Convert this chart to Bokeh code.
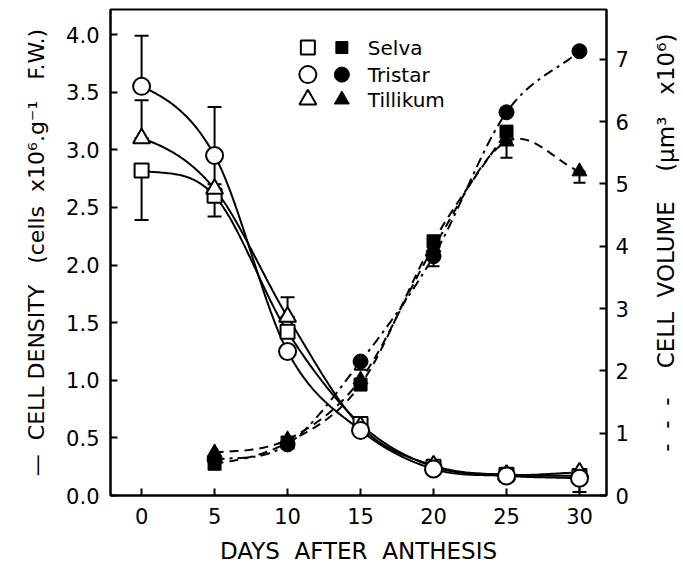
import math
import numpy as np
from bokeh.plotting import figure
from bokeh.models import (Range1d, LinearAxis, Whisker, ColumnDataSource, TeeHead,
                          FixedTicker, PrintfTickFormatter)
from bokeh.embed import file_html
from bokeh.resources import INLINE
from bokeh.core.properties import value

# ---------------- data ----------------
days = [0, 5, 10, 15, 20, 25, 30]
selva_density = [2.82, 2.60, 1.42, 0.62, 0.25, 0.18, 0.17]
tristar_density = [3.55, 2.95, 1.25, 0.565, 0.23, 0.17, 0.15]
tillikum_density = [3.10, 2.66, 1.55, 0.60, 0.26, 0.18, 0.20]

selva_vol_days = [5, 10, 15, 20, 25]
selva_volume = [0.51, 0.85, 1.78, 4.08, 5.84]
vol_days = [5, 10, 15, 20, 25, 30]
tristar_volume = [0.58, 0.82, 2.15, 3.84, 6.15, 7.13]
tillikum_volume = [0.69, 0.90, 1.86, 3.98, 5.68, 5.20]

# error bars (day, low, high) - only the visible side of each bar
dens_err_days = [0, 0, 0, 5, 5, 10, 30]
dens_err_lo = [2.39, 3.10, 3.55, 2.42, 2.70, 1.55, 0.03]
dens_err_hi = [2.82, 3.43, 3.99, 2.60, 3.37, 1.72, 0.15]

vol_err_days = [15, 20, 25, 30]
vol_err_lo = [2.02, 3.68, 5.42, 5.02]
vol_err_hi = [2.15, 3.84, 5.68, 5.20]

x_ticks = [0, 5, 10, 15, 20, 25, 30]
dens_ticks = [0.0, 0.5, 1.0, 1.5, 2.0, 2.5, 3.0, 3.5, 4.0]
vol_ticks = [0, 1, 2, 3, 4, 5, 6, 7]

legend_names = ["Selva", "Tristar", "Tillikum"]
legend_y = [3.887, 3.652, 3.435]
legend_x_open = 11.39
legend_x_filled = 13.72
legend_x_text = 15.5

FONT = "DejaVu Sans"
NB = "\u00a0"


def smooth(xs, ys, n=40):
    xs = np.asarray(xs, float)
    ys = np.asarray(ys, float)
    m = np.zeros_like(ys)
    for i in range(len(xs)):
        if i == 0:
            m[i] = (ys[1] - ys[0]) / (xs[1] - xs[0]) * 0.5
        elif i == len(xs) - 1:
            m[i] = (ys[-1] - ys[-2]) / (xs[-1] - xs[-2])
        else:
            m[i] = (ys[i + 1] - ys[i - 1]) / (xs[i + 1] - xs[i - 1])
    ox, oy = [], []
    for i in range(len(xs) - 1):
        h = xs[i + 1] - xs[i]
        t = np.linspace(0, 1, n)
        h00 = 2 * t**3 - 3 * t**2 + 1
        h10 = t**3 - 2 * t**2 + t
        h01 = -2 * t**3 + 3 * t**2
        h11 = t**3 - t**2
        ox.extend(xs[i] + t * h)
        oy.extend(h00 * ys[i] + h10 * h * m[i] + h01 * ys[i + 1] + h11 * h * m[i + 1])
    return ox, oy


p = figure(frame_width=496, frame_height=486, output_backend="svg", toolbar_location=None,
           x_range=Range1d(-2.13, 31.85), y_range=Range1d(0, 4.217),
           min_border_left=110, min_border_right=68, min_border_top=9, min_border_bottom=40)
p.extra_y_ranges = {"vol": Range1d(0, 7.80)}
p.xgrid.visible = False
p.ygrid.visible = False
p.outline_line_color = "black"
p.outline_line_width = 2
p.background_fill_color = "white"
p.border_fill_color = "white"

right_axis = LinearAxis(y_range_name="vol")
p.add_layout(right_axis, "right")

for ax in [p.xaxis[0], p.yaxis[0], right_axis]:
    ax.axis_line_width = 2
    ax.axis_line_color = "black"
    ax.major_tick_line_width = 2
    ax.major_tick_in = 7
    ax.major_tick_out = 0
    ax.minor_tick_line_color = None
    ax.major_label_text_font = FONT
    ax.major_label_text_font_size = "21px"
    ax.major_label_text_color = "black"
    ax.axis_label_text_font = FONT
    ax.axis_label_text_font_size = "22px"
    ax.axis_label_text_font_style = "normal"
    ax.axis_label_text_color = "black"

p.xaxis.ticker = FixedTicker(ticks=x_ticks)
p.yaxis[0].ticker = FixedTicker(ticks=dens_ticks)
p.yaxis[0].formatter = PrintfTickFormatter(format="%.1f")
right_axis.ticker = FixedTicker(ticks=vol_ticks)
p.xaxis.major_label_standoff = 12
p.yaxis[0].major_label_standoff = 11
right_axis.major_label_standoff = 9
p.xaxis.axis_label = "DAYS" + NB * 2 + "AFTER" + NB * 2 + "ANTHESIS"
p.xaxis.axis_label_text_font_size = "23px"
p.xaxis.axis_label_standoff = 11
p.yaxis[0].axis_label = ("—" + NB * 2 + "CELL" + NB + "DENSITY" + NB * 3 + "(cells" + NB * 2
                         + "x10⁶.g⁻¹" + NB * 3 + "F.W.)")
p.yaxis[0].axis_label_standoff = 14

# right axis title reads bottom to top, as in the reference
right_axis.axis_label = (NB * 6 + "-" + NB * 2 + "-" + NB * 2 + "-" + NB * 4 + "CELL" + NB * 2
                         + "VOLUME" + NB * 4 + "(µm³" + NB * 3 + "x10⁶)")
right_axis.axis_label_text_font_size = "23px"
right_axis.axis_label_orientation = math.pi / 2
right_axis.axis_label_align = "start"
right_axis.axis_label_standoff = 34

# error bars
dens_err_src = ColumnDataSource(dict(x=dens_err_days, lo=dens_err_lo, hi=dens_err_hi))
p.add_layout(Whisker(source=dens_err_src, base="x", lower="lo", upper="hi", dimension="height",
                     line_width=2, line_color="black",
                     upper_head=TeeHead(size=14, line_width=2, line_color="black"),
                     lower_head=TeeHead(size=14, line_width=2, line_color="black")))
vol_err_src = ColumnDataSource(dict(x=vol_err_days, lo=vol_err_lo, hi=vol_err_hi))
p.add_layout(Whisker(source=vol_err_src, base="x", lower="lo", upper="hi", dimension="height",
                     y_range_name="vol", line_width=2, line_color="black",
                     upper_head=TeeHead(size=12, line_width=2, line_color="black"),
                     lower_head=TeeHead(size=12, line_width=2, line_color="black")))

# density curves (solid)
for ys in [selva_density, tristar_density, tillikum_density]:
    sx, sy = smooth(days, ys)
    p.line(sx, sy, line_color="black", line_width=2)

# volume curves (dashed)
sx, sy = smooth(selva_vol_days, selva_volume)
p.line(sx, sy, y_range_name="vol", line_color="black", line_width=2, line_dash="9 6")
sx, sy = smooth(vol_days, tillikum_volume)
p.line(sx, sy, y_range_name="vol", line_color="black", line_width=2, line_dash="9 6")
sx, sy = smooth(vol_days, tristar_volume)
p.line(sx, sy, y_range_name="vol", line_color="black", line_width=2, line_dash="10 5 3 5")

# density markers (open)
p.scatter(days, selva_density, marker="square", size=14, fill_color="white", line_color="black", line_width=2)
p.scatter(days, tillikum_density, marker="triangle", size=17, fill_color="white", line_color="black", line_width=2)
p.scatter(days, tristar_density, marker="circle", size=17, fill_color="white", line_color="black", line_width=2)

# volume markers (filled)
p.scatter(vol_days, tillikum_volume, y_range_name="vol", marker="triangle", size=15, fill_color="black", line_color="black")
p.scatter(vol_days, tristar_volume, y_range_name="vol", marker="circle", size=15, fill_color="black", line_color="black")
p.scatter(selva_vol_days, selva_volume, y_range_name="vol", marker="square", size=13, fill_color="black", line_color="black")

# legend
open_markers = ["square", "circle", "triangle"]
open_sizes = [14, 17, 17]
filled_sizes = [12, 15, 15]
for i in range(3):
    p.scatter([legend_x_open], [legend_y[i]], marker=open_markers[i], size=open_sizes[i],
              fill_color="white", line_color="black", line_width=2)
    p.scatter([legend_x_filled], [legend_y[i]], marker=open_markers[i], size=filled_sizes[i],
              fill_color="black", line_color="black")
p.text([legend_x_text] * 3, legend_y, text=legend_names, text_font=value(FONT),
       text_font_size="20px", text_baseline="middle", text_align="left", text_color="black")

open("out.html", "w").write(file_html(p, INLINE))
